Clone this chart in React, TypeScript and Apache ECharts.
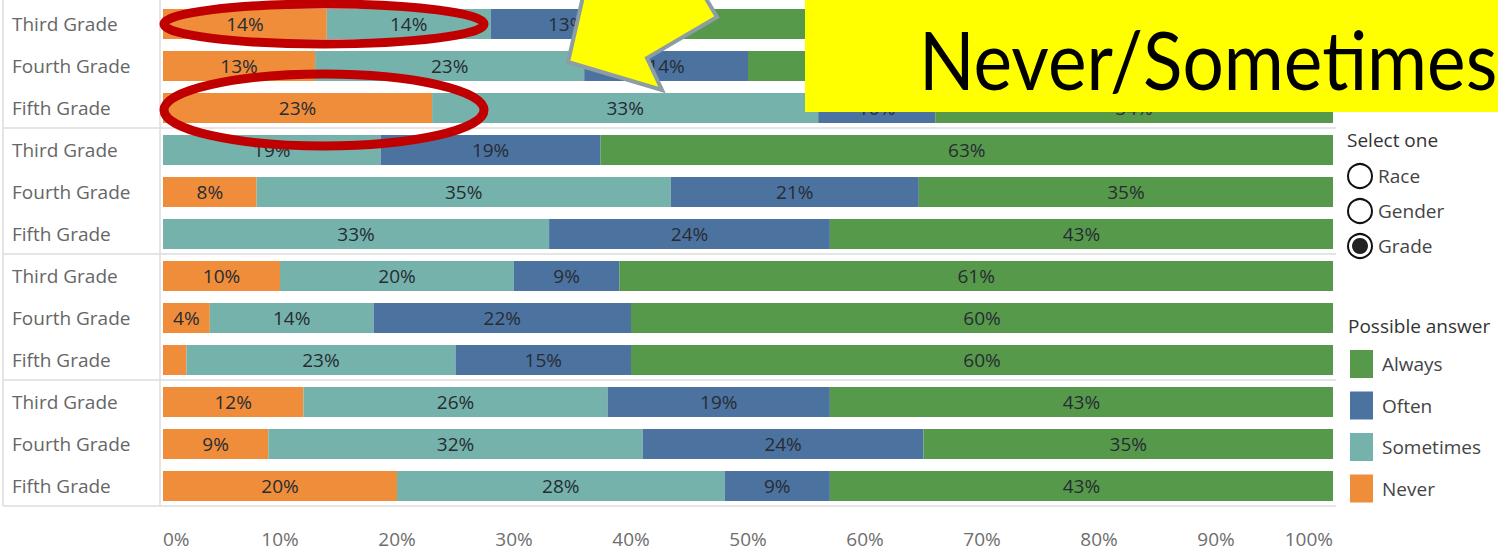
import React, { useEffect, useRef } from "react";
import * as echarts from "echarts";

const rowIds = [
  "a|Third Grade", "a|Fourth Grade", "a|Fifth Grade",
  "b|Third Grade", "b|Fourth Grade", "b|Fifth Grade",
  "c|Third Grade", "c|Fourth Grade", "c|Fifth Grade",
  "d|Third Grade", "d|Fourth Grade", "d|Fifth Grade",
];
const never = [14, 13, 23, 0, 8, 0, 10, 4, 2, 12, 9, 20];
const sometimes = [14, 23, 33, 18.6, 35.4, 33, 20, 14, 23, 26, 32, 28];
const often = [13, 14, 10, 18.8, 21.2, 24, 9, 22, 15, 19, 24, 9];
const always = [59, 50, 34, 62.6, 35.4, 43, 61, 60, 60, 43, 35, 43];
const xTicks = [0, 10, 20, 30, 40, 50, 60, 70, 80, 90, 100];
const answers = ["Always", "Often", "Sometimes", "Never"];
const selectOptions = ["Race", "Gender", "Grade"];

const FONT = "'Open Sans', 'Noto Sans', sans-serif";
const COLORS: Record<string, string> = {
  Never: "#EF8D3A",
  Sometimes: "#75B2AB",
  Often: "#4C72A0",
  Always: "#57994B",
};

export default function App() {
  const ref = useRef<HTMLDivElement>(null);
  useEffect(() => {
    if (!ref.current) return;
    const chart = echarts.init(ref.current, undefined, { renderer: "svg" });
    const GRID_L = 163, GRID_R = 1333, GRID_T = 3, GRID_B = 507;
    const band = (GRID_B - GRID_T) / rowIds.length;

    const mkSeries = (name: string, data: number[]) => ({
      name,
      type: "bar",
      stack: "total",
      barWidth: 30,
      data,
      itemStyle: { color: COLORS[name] },
      label: {
        show: true,
        position: "inside",
        color: "#262c33",
        fontFamily: FONT,
        fontSize: 19,
        formatter: (p: any) => (p.value >= 3 ? Math.round(p.value) + "%" : ""),
      },
    });

    const lines: any[] = [];
    const lineStyle = { stroke: "#dcdcdc", lineWidth: 1.5 };
    for (let g = 1; g <= 4; g++) {
      const y = GRID_T + band * 3 * g - 1;
      lines.push({ type: "line", shape: { x1: 3, y1: y, x2: 1336, y2: y }, style: lineStyle, z: 1 });
    }
    lines.push({ type: "line", shape: { x1: 3, y1: 0, x2: 3, y2: GRID_B - 1 }, style: lineStyle, z: 1 });
    lines.push({ type: "line", shape: { x1: 160, y1: 0, x2: 160, y2: GRID_B - 1 }, style: lineStyle, z: 1 });

    const radios: any[] = [];
    selectOptions.forEach((s, i) => {
      const cy = 176 + i * 35;
      radios.push({ type: "circle", shape: { cx: 1360, cy, r: 12 }, style: { fill: "#fff", stroke: "#111", lineWidth: 2 }, z: 10 });
      if (s === "Grade") {
        radios.push({ type: "circle", shape: { cx: 1360, cy, r: 8 }, style: { fill: "#222" }, z: 11 });
      }
      radios.push({
        type: "text", x: 1378, y: cy, z: 10,
        style: { text: s, font: `19px ${FONT}`, fill: "#444", verticalAlign: "middle" },
      });
    });

    chart.setOption({
      animation: false,
      backgroundColor: "#ffffff",
      grid: { left: GRID_L, right: 1498 - GRID_R, top: GRID_T, bottom: 556 - GRID_B },
      xAxis: {
        type: "value",
        min: 0,
        max: 100,
        interval: 10,
        axisLine: { show: false },
        axisTick: { show: false },
        splitLine: { show: false },
        axisLabel: {
          formatter: "{value}%",
          color: "#6e6e6e",
          fontFamily: FONT,
          fontSize: 19,
          margin: 22,
          alignMinLabel: "left",
          alignMaxLabel: "right",
          customValues: xTicks,
        },
      },
      yAxis: {
        type: "category",
        inverse: true,
        data: rowIds,
        axisLine: { show: false },
        axisTick: { show: false },
        axisLabel: {
          formatter: (v: string) => v.split("|")[1],
          align: "left",
          margin: GRID_L - 12,
          color: "#666",
          fontFamily: FONT,
          fontSize: 19,
        },
      },
      legend: {
        orient: "vertical",
        left: 1350,
        top: 350,
        padding: 0,
        data: answers,
        icon: "rect",
        itemWidth: 23,
        itemHeight: 28,
        itemGap: 13.5,
        selectedMode: false,
        textStyle: { color: "#444", fontFamily: FONT, fontSize: 19, padding: [0, 0, 0, 4] },
      },
      series: [
        mkSeries("Never", never),
        mkSeries("Sometimes", sometimes),
        mkSeries("Often", often),
        mkSeries("Always", always),
      ],
      graphic: [
        ...lines,
        { type: "text", x: 1347, y: 140, z: 10, style: { text: "Select one", font: `19px ${FONT}`, fill: "#333", verticalAlign: "middle" } },
        ...radios,
        { type: "text", x: 1348, y: 326, z: 10, style: { text: "Possible answer", font: `19px ${FONT}`, fill: "#333", verticalAlign: "middle" } },
        { type: "ellipse", shape: { cx: 324, cy: 24, rx: 160, ry: 20 }, style: { fill: "none", stroke: "#C00000", lineWidth: 9 }, z: 20 },
        { type: "ellipse", shape: { cx: 324, cy: 110, rx: 160, ry: 36 }, style: { fill: "none", stroke: "#C00000", lineWidth: 9 }, z: 20 },
        {
          type: "polygon",
          shape: { points: [[568, 62], [662, 90], [647, 58], [717, 17], [680, -45], [610, -5], [590, -34]] },
          style: { fill: "#FFFF00", stroke: "#8C9DA4", lineWidth: 4, lineJoin: "miter" },
          z: 20,
        },
        { type: "rect", shape: { x: 805, y: 0, width: 700, height: 112 }, style: { fill: "#FFFF00" }, z: 20 },
        {
          type: "text", x: 919, y: 58, scaleY: 1.11, z: 21,
          style: { text: "Never/Sometimes", font: `73px Lato, 'Open Sans', sans-serif`, fill: "#000", verticalAlign: "middle" },
        },
      ],
    });
    return () => chart.dispose();
  }, []);
  return <div ref={ref} style={{ position: "fixed", left: 0, top: 0, width: 1498, height: 556 }} />;
}
